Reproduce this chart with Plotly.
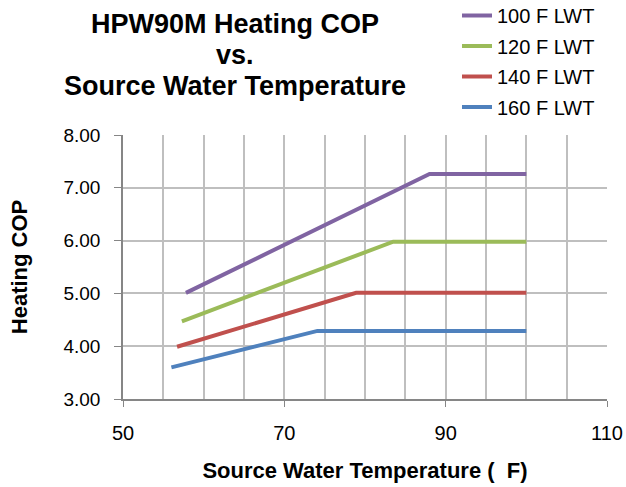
import plotly.graph_objects as go

# Data
series_names = ["100 F LWT", "120 F LWT", "140 F LWT", "160 F LWT"]
x_100 = [57.8, 88.0, 100.0]
y_100 = [5.01, 7.26, 7.26]
x_120 = [57.3, 83.5, 100.0]
y_120 = [4.47, 5.98, 5.98]
x_140 = [56.7, 78.9, 100.0]
y_140 = [3.99, 5.01, 5.01]
x_160 = [56.0, 74.1, 100.0]
y_160 = [3.60, 4.29, 4.29]
colors = ["#8064A2", "#9BBB59", "#C0504D", "#4F81BD"]
title_lines = ["HPW90M Heating COP", "vs.", "Source Water Temperature"]

W, H = 626, 487
L, R, T, B = 123, 19, 135, 88
pw = W - L - R
ph = H - T - B

def px_x(p):
    return (p - L) / pw

def px_y(p):
    return (H - B - p) / ph

fig = go.Figure()
for i, (name, xs, ys) in enumerate(zip(series_names, [x_100, x_120, x_140, x_160], [y_100, y_120, y_140, y_160])):
    fig.add_trace(go.Scatter(x=xs, y=ys, mode="lines", name=name,
                             legendgroup=name,
                             line=dict(color=colors[i], width=4)))

font_family = "Liberation Sans, Arial, sans-serif"
title_y = [24, 55, 86]
for t, yy in zip(title_lines, title_y):
    fig.add_annotation(text="<b>%s</b>" % t, xref="paper", yref="paper",
                       x=px_x(235), y=px_y(yy), xanchor="center", yanchor="middle",
                       showarrow=False, font=dict(family=font_family, size=27, color="#000000"))

grid_c = "#BFBFBF"
axis_c = "#868686"
fig.update_layout(
    width=W, height=H,
    margin=dict(l=L, r=R, t=T, b=B, pad=0, autoexpand=False),
    paper_bgcolor="white", plot_bgcolor="white",
    font=dict(family=font_family, size=18, color="#000000"),
    showlegend=True,
    legend=dict(x=px_x(457), y=px_y(-4), xanchor="left", yanchor="top",
                xref="paper", yref="paper",
                font=dict(size=20, family=font_family), tracegroupgap=1.5,
                bgcolor="rgba(0,0,0,0)"),
    xaxis=dict(range=[50, 110], dtick=20, tick0=50, showgrid=True, gridcolor=grid_c, gridwidth=1.5,
               minor=dict(dtick=5, showgrid=True, gridcolor=grid_c, gridwidth=1.5),
               showline=True, linecolor=axis_c, linewidth=1.5,
               ticks="outside", ticklen=6, tickcolor=axis_c, zeroline=False,
               tickfont=dict(size=20), ticklabelstandoff=9, ticklabeloverflow="allow",
               title=dict(text="<b>Source Water Temperature (  F)</b>", font=dict(size=22), standoff=20)),
    yaxis=dict(range=[3, 8], dtick=1, tickformat=".2f", showgrid=True, gridcolor=grid_c, gridwidth=1.5,
               showline=True, linecolor=axis_c, linewidth=1.5,
               ticks="outside", ticklen=7, tickcolor=axis_c, zeroline=False,
               tickfont=dict(size=19), ticklabelstandoff=10,
               title=dict(text="<b>Heating COP</b>", font=dict(size=22), standoff=30)),
)

fig.write_html("out.html", config={"displayModeBar": False},
               post_script="document.body.style.margin='0';")
